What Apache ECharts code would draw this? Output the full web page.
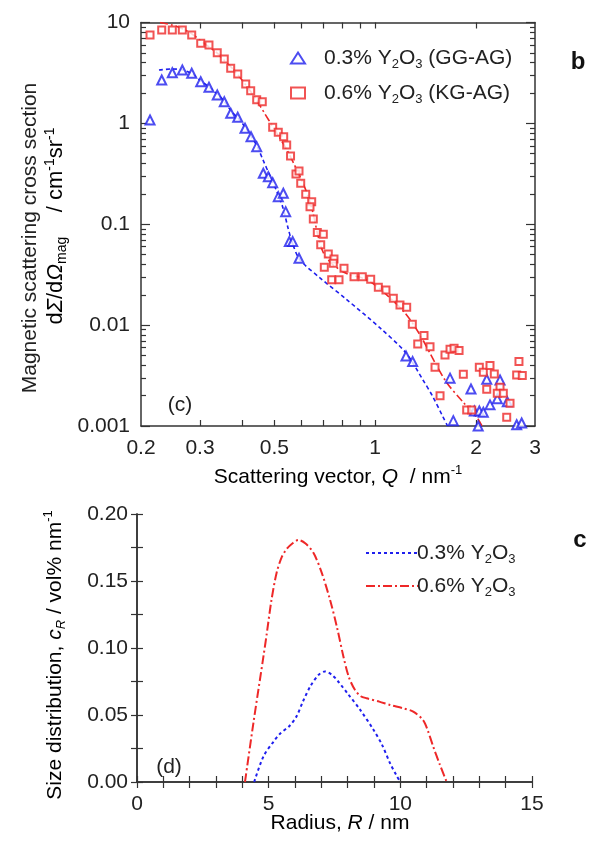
<!DOCTYPE html>
<html><head><meta charset="utf-8">
<script src="https://cdn.jsdelivr.net/npm/echarts@6.0.0/dist/echarts.min.js"></script>
<style>html,body{margin:0;padding:0;background:#fff}#c{width:593px;height:842px}</style>
</head><body><div id="c"></div>
<script>
// ---------- DATA ----------
// Panel (c): magnetic scattering cross section vs Q
const q03 = [0.2128,0.2306,0.2480,0.2657,0.2834,0.3015,0.3191,0.3378,0.3545,0.3705,0.3888,0.4088,0.4260,0.4430,0.4635,0.4798,0.4944,0.5138,0.5319,0.5406,0.5543,0.5674,0.5925,1.236,1.294,1.673,1.711,1.932,1.977,2.046,2.103,2.153,2.202,2.315,2.359,2.480,2.645,2.737,2.03];
const i03 = [1.08,2.69,3.18,3.38,3.14,2.59,2.28,1.91,1.64,1.26,1.15,0.894,0.738,0.588,0.320,0.296,0.2585,0.1877,0.2028,0.1333,0.0673,0.0673,0.0460,0.00495,0.00435,0.00298,0.00113,0.00233,0.00141,0.00141,0.00137,0.00291,0.00162,0.00186,0.00286,0.00174,0.00103,0.00107,0.001];
const q06 = [0.2128,0.2306,0.2480,0.2657,0.2834,0.3015,0.3191,0.3378,0.3545,0.3705,0.3888,0.4108,0.4251,0.4430,0.4603,0.4944,0.5138,0.5333,0.5444,0.5590,0.5803,0.5925,0.5995,0.6205,0.6465,0.6390,0.6537,0.6719,0.7002,0.6878,0.7246,0.7536,0.7500,0.7050,0.8072,0.7418,0.7800,0.8646,0.9154,0.9698,1.022,1.077,1.133,1.186,1.242,1.291,1.399,1.340,1.458,1.616,1.673,1.720,1.780,1.509,1.833,2.046,2.103,2.202,2.268,2.153,2.359,2.315,2.413,2.527,2.645,2.687,2.749,2.470,1.562,1.876,1.942];
const i06 = [7.52,8.43,8.43,8.43,7.52,6.22,5.98,5.02,4.35,3.52,3.09,2.46,2.11,1.71,1.64,0.915,0.816,0.738,0.611,0.475,0.315,0.337,0.2549,0.1983,0.1675,0.1494,0.1129,0.0826,0.0796,0.0628,0.0508,0.0453,0.0411,0.0375,0.0366,0.0281,0.0281,0.0302,0.0302,0.0285,0.0237,0.0223,0.0185,0.01585,0.01504,0.0102,0.00787,0.00651,0.00612,0.00507,0.00577,0.0059,0.00559,0.00383,0.00326,0.00383,0.00341,0.00397,0.00328,0.00232,0.00242,0.00211,0.00211,0.00168,0.00321,0.00435,0.00316,0.00122,0.00199,0.00144,0.00144];
const fitQ03 = [0.2263,0.2475,0.2669,0.2840,0.3021,0.3191,0.3371,0.3538,0.3713,0.3896,0.4088,0.4260,0.4439,0.4626,0.4855,0.5093,0.5308,0.5494,0.5686,0.5966,0.6844,0.8240,1.034,1.236,1.389,1.488,1.594,1.645];
const fitI03 = [3.38,3.46,3.38,3.09,2.63,2.30,1.96,1.67,1.33,1.13,0.921,0.750,0.597,0.434,0.301,0.209,0.145,0.0919,0.0624,0.0443,0.0294,0.0178,0.00938,0.0053,0.00286,0.00194,0.00123,0.001];
const fitQ06 = [0.2279,0.2475,0.2669,0.2840,0.3021,0.3191,0.3371,0.3538,0.3713,0.3896,0.4088,0.4260,0.4439,0.4689,0.4955,0.5235,0.5494,0.5763,0.6049,0.6304,0.6524,0.6752,0.6988,0.7332,0.7855,0.8414,0.9136,0.9989,1.107,1.228,1.361,1.509,1.638,1.829,2.014,2.084];
const fitI06 = [10,9.45,8.62,7.69,6.55,5.72,4.99,4.25,3.62,3.02,2.46,2.05,1.67,1.24,0.921,0.685,0.521,0.378,0.2686,0.1908,0.1294,0.0766,0.0531,0.0423,0.0352,0.0314,0.0294,0.0250,0.0186,0.0132,0.0080,0.00425,0.00267,0.00173,0.00121,0.001];
const qTicks = [0.3,0.4,0.5,0.6,0.7,0.8,0.9,1,2];
const qLabels = [0.2,0.3,0.5,1,2,3];
const iLabels = [0.001,0.01,0.1,1,10];

// Panel (d): size distribution
const rad03 = [4.45,4.80,5.18,5.43,5.80,6.06,6.30,6.60,6.90,7.14,7.40,7.64,8.00,8.47,8.98,9.30,9.61,9.85,10.0];
const dist03 = [0,0.019,0.030,0.036,0.042,0.049,0.060,0.072,0.080,0.0825,0.080,0.075,0.066,0.054,0.039,0.028,0.014,0.005,0];
const rad06 = [4.10,4.42,4.80,4.93,5.10,5.30,5.50,5.69,5.90,6.13,6.40,6.70,7.00,7.33,7.60,7.84,8.05,8.28,8.50,8.72,9.20,9.61,10.10,10.49,10.87,11.05,11.25,11.50,11.76];
const dist06 = [0,0.044,0.0935,0.111,0.135,0.156,0.168,0.174,0.178,0.1806,0.178,0.171,0.157,0.136,0.115,0.0935,0.078,0.0686,0.064,0.0625,0.060,0.0575,0.055,0.0525,0.046,0.038,0.0263,0.013,0];

const names03 = '0.3% Y2O3 (GG-AG)', names06 = '0.6% Y2O3 (KG-AG)';
const namesD03 = '0.3% Y2O3', namesD06 = '0.6% Y2O3';

// ---------- CHART ----------
const FONT = '"Liberation Sans", Arial, sans-serif';
const TXT = '#222';
const AX = '#333';
const BLUE = '#1f1fee';
const RED = '#ee2828';

const pairs = (xs, ys) => xs.map((x, i) => [x, ys[i]]);
const fmt = v => String(parseFloat((+v).toPrecision(6)));
const yMinor = [];
for (let e = -3; e < 1; e++) for (let m = 2; m <= 9; m++) yMinor.push(parseFloat((m * Math.pow(10, e)).toPrecision(4)));

const lineS = {show: true, lineStyle: {color: AX, width: 1.5}};
const tickS = {color: AX, width: 1.2};
const lab = {color: TXT, fontFamily: FONT, fontSize: 21};
const noSplit = {show: false};

const sub = {fontSize: 13, fontFamily: FONT, color: TXT, verticalAlign: 'bottom'};
const sup = {fontSize: 13, fontFamily: FONT, color: TXT, verticalAlign: 'top'};
const nrm = {fontSize: 21, fontFamily: FONT, color: TXT, lineHeight: 26};
const ital = {fontSize: 21, fontFamily: FONT, color: TXT, fontStyle: 'italic', lineHeight: 26};
const richAll = {n: nrm, i: ital, s: sub, p: sup};
const richBig = {
  n: Object.assign({}, nrm, {fontSize: 22}), i: Object.assign({}, ital, {fontSize: 22}),
  s: Object.assign({}, sub, {fontSize: 14}), p: Object.assign({}, sup, {fontSize: 14})
};

const legendFmt = n => n.replace('Y2O3', 'Y{s|2}O{s|3}');

const chart = echarts.init(document.getElementById('c'));
chart.setOption({
  animation: false,
  backgroundColor: '#fff',
  grid: [
    {left: 141, top: 22.5, width: 394, height: 403.5, containLabel: false},
    {left: 137, top: 514, width: 395, height: 268, containLabel: false}
  ],
  xAxis: [
    {gridIndex: 0, type: 'log', logBase: 10, min: 0.2, max: 3, position: 'bottom', axisLine: lineS, splitLine: noSplit,
     axisTick: {show: true, inside: true, length: 6, customValues: qTicks, lineStyle: tickS},
     axisLabel: Object.assign({}, lab, {margin: 12, customValues: qLabels, formatter: fmt})},
    {gridIndex: 0, type: 'log', logBase: 10, min: 0.2, max: 3, position: 'top', axisLine: lineS, splitLine: noSplit,
     axisTick: {show: true, inside: true, length: 6, customValues: qTicks, lineStyle: tickS},
     axisLabel: {show: false}},
    {gridIndex: 1, type: 'value', min: 0, max: 15, interval: 5, position: 'bottom', axisLine: lineS, splitLine: noSplit,
     axisTick: {show: true, inside: true, length: 6, lineStyle: tickS},
     minorTick: {show: true, splitNumber: 5, length: 6, lineStyle: tickS}, minorSplitLine: {show: false},
     axisLabel: Object.assign({}, lab, {margin: 12})},
    {gridIndex: 1, type: 'value', min: 0, max: 15, interval: 5, position: 'top', axisLine: lineS, splitLine: noSplit,
     axisTick: {show: true, inside: true, length: 6, lineStyle: tickS},
     minorTick: {show: true, splitNumber: 5, length: 6, lineStyle: tickS},
     axisLabel: {show: false}}
  ],
  yAxis: [
    {gridIndex: 0, type: 'log', logBase: 10, min: 0.001, max: 10, position: 'left', axisLine: lineS, splitLine: noSplit,
     axisTick: {show: true, inside: true, length: 9, customValues: iLabels, lineStyle: tickS},
     axisLabel: Object.assign({}, lab, {margin: 11, customValues: iLabels, formatter: fmt})},
    {gridIndex: 0, type: 'log', logBase: 10, min: 0.001, max: 10, position: 'left', axisLine: {show: false}, splitLine: noSplit,
     axisTick: {show: true, inside: true, length: 5, customValues: yMinor, lineStyle: tickS},
     axisLabel: {show: false}},
    {gridIndex: 0, type: 'log', logBase: 10, min: 0.001, max: 10, position: 'right', axisLine: lineS, splitLine: noSplit,
     axisTick: {show: true, inside: true, length: 9, customValues: iLabels, lineStyle: tickS},
     axisLabel: {show: false}},
    {gridIndex: 0, type: 'log', logBase: 10, min: 0.001, max: 10, position: 'right', axisLine: {show: false}, splitLine: noSplit,
     axisTick: {show: true, inside: true, length: 5, customValues: yMinor, lineStyle: tickS},
     axisLabel: {show: false}},
    {gridIndex: 1, type: 'value', min: 0, max: 0.2, interval: 0.05, position: 'left', axisLine: lineS, splitLine: noSplit,
     axisTick: {show: true, inside: true, length: 6, lineStyle: tickS},
     minorTick: {show: true, splitNumber: 2, length: 6, lineStyle: tickS}, minorSplitLine: {show: false},
     axisLabel: Object.assign({}, lab, {margin: 9, formatter: v => (+v).toFixed(2)})},
    {gridIndex: 1, type: 'value', min: 0, max: 0.2, interval: 0.05, position: 'right', axisLine: lineS, splitLine: noSplit,
     axisTick: {show: true, inside: true, length: 6, lineStyle: tickS},
     minorTick: {show: true, splitNumber: 2, length: 6, lineStyle: tickS},
     axisLabel: {show: false}}
  ],
  legend: [
    {data: [names03, names06], orient: 'vertical', left: 285, top: 40, itemGap: 9, itemWidth: 14, itemHeight: 11,
     selectedMode: false, formatter: legendFmt,
     textStyle: {fontSize: 21, fontFamily: FONT, color: TXT, lineHeight: 26, padding: [0, 0, 0, 14],
                 rich: {s: sub}}},
    {data: [namesD03, namesD06], orient: 'vertical', left: 360, top: 535, itemGap: 7, itemWidth: 52, itemHeight: 12,
     selectedMode: false, formatter: legendFmt,
     itemStyle: {color: 'rgba(0,0,0,0)', borderColor: 'rgba(0,0,0,0)', opacity: 0},
     textStyle: {fontSize: 21, fontFamily: FONT, color: TXT, lineHeight: 26, padding: [0, 0, 0, -6],
                 rich: {s: sub}}}
  ],
  series: [
    {name: 'fit03', type: 'line', xAxisIndex: 0, yAxisIndex: 0, data: pairs(fitQ03, fitI03), symbol: 'none', smooth: 0.3,
     lineStyle: {color: BLUE, width: 1.6, type: [4, 3]}, z: 2},
    {name: 'fit06', type: 'line', xAxisIndex: 0, yAxisIndex: 0, data: pairs(fitQ06, fitI06), symbol: 'none', smooth: 0.3,
     lineStyle: {color: RED, width: 1.6, type: [8, 3, 2, 3]}, z: 2},
    {name: names03, type: 'scatter', xAxisIndex: 0, yAxisIndex: 0, data: pairs(q03, i03), symbol: 'emptyTriangle', symbolSize: 9,
     itemStyle: {color: BLUE, borderColor: BLUE, borderWidth: 1.2}, z: 3},
    {name: names06, type: 'scatter', xAxisIndex: 0, yAxisIndex: 0, data: pairs(q06, i06), symbol: 'emptyRect', symbolSize: 7,
     itemStyle: {color: RED, borderColor: RED, borderWidth: 1.2}, z: 3},
    {name: namesD03, type: 'line', xAxisIndex: 2, yAxisIndex: 4, data: pairs(rad03, dist03), symbol: 'none', smooth: 0.3,
     lineStyle: {color: BLUE, width: 2, type: [3, 3]}, itemStyle: {color: BLUE}},
    {name: namesD06, type: 'line', xAxisIndex: 2, yAxisIndex: 4, data: pairs(rad06, dist06), symbol: 'none', smooth: 0.3,
     lineStyle: {color: RED, width: 2, type: [9, 3, 2, 3]}, itemStyle: {color: RED}}
  ],
  graphic: [
    {type: 'text', x: 30, y: 238, rotation: Math.PI / 2,
     style: {text: 'Magnetic scattering cross section', fontSize: 21, fontFamily: FONT, fill: TXT, align: 'center', verticalAlign: 'middle'}},
    {type: 'text', x: 56, y: 226, rotation: Math.PI / 2,
     style: {text: '{n|d}{i|Σ}{n|/d}{i|Ω}{s|mag}{n|    / cm}{p|-1}{n|sr}{p|-1}', rich: richBig, align: 'center', verticalAlign: 'middle'}},
    {type: 'text', x: 338, y: 477,
     style: {text: '{n|Scattering vector, }{i|Q}{n|  / nm}{p|-1}', rich: richAll, align: 'center', verticalAlign: 'middle'}},
    {type: 'text', x: 55, y: 655, rotation: Math.PI / 2,
     style: {text: '{n|Size distribution, }{i|c}{si|R}{n| / vol% nm}{p|-1}', rich: Object.assign({si: Object.assign({}, sub, {fontStyle: 'italic'})}, richAll), align: 'center', verticalAlign: 'middle'}},
    {type: 'text', x: 340, y: 823,
     style: {text: '{n|Radius, }{i|R}{n| / nm}', rich: richAll, align: 'center', verticalAlign: 'middle'}},
    {type: 'text', x: 180, y: 405,
     style: {text: '(c)', fontSize: 21, fontFamily: FONT, fill: TXT, align: 'center', verticalAlign: 'middle'}},
    {type: 'text', x: 169, y: 767,
     style: {text: '(d)', fontSize: 21, fontFamily: FONT, fill: TXT, align: 'center', verticalAlign: 'middle'}},
    {type: 'text', x: 578, y: 62,
     style: {text: 'b', fontSize: 24, fontWeight: 'bold', fontFamily: FONT, fill: '#111', align: 'center', verticalAlign: 'middle'}},
    {type: 'text', x: 580, y: 540,
     style: {text: 'c', fontSize: 24, fontWeight: 'bold', fontFamily: FONT, fill: '#111', align: 'center', verticalAlign: 'middle'}}
  ]
});
</script>
</body></html>
